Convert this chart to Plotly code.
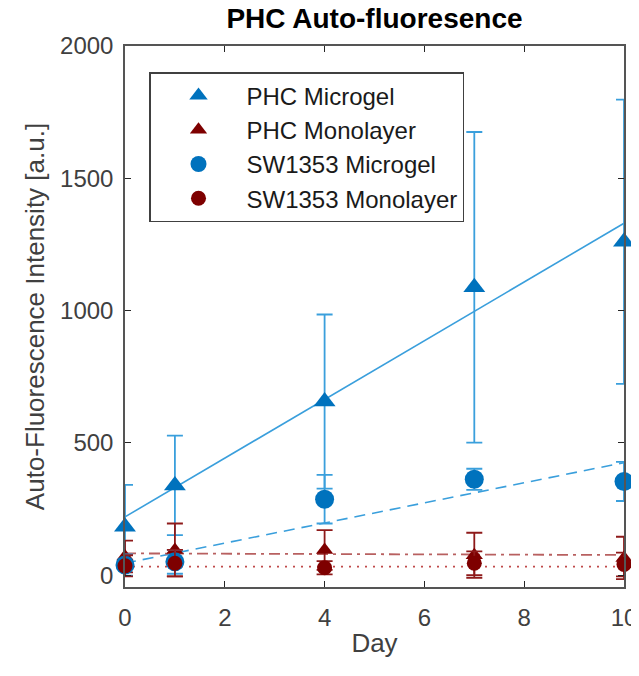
import plotly.graph_objects as go

days = [0, 1, 4, 7, 10]

phc_micro = [183, 339, 656, 1088, 1260]
phc_micro_err = [158, 188, 329, 587, 537]

phc_mono = [70, 95, 95, 75, 65]
phc_mono_err = [60, 100, 75, 85, 80]

sw_micro = [38, 50, 287, 362, 354]
sw_micro_err = [40, 45, 92, 40, 74]

sw_mono = [35, 45, 28, 45, 40]
sw_mono_err = [40, 50, 25, 45, 45]

fit_days = [0, 10]
fit_phc_micro = [220, 1330]
fit_phc_mono = [82, 76]
fit_sw_micro = [45, 425]
fit_sw_mono = [32, 32]

BLUE = "#0072BD"
BLUE_L = "#3A9FDC"
RED = "#7E0000"
RED_E = "#8E1A1A"

FONT = "Liberation Sans, Arial"

# figure sits inside the page body (8px margin)
OFF = 8
W, H = 639 - OFF, 676 - 2 * OFF
PL, PR, PT, PB = 125 - OFF, 624 - OFF, 46 - OFF, 587 - OFF

fig = go.Figure()

# fit lines
fig.add_trace(go.Scatter(x=fit_days, y=fit_phc_micro, mode="lines",
                         line=dict(color=BLUE_L, width=1.6), showlegend=False, hoverinfo="skip"))
fig.add_trace(go.Scatter(x=fit_days, y=fit_sw_micro, mode="lines",
                         line=dict(color=BLUE_L, width=1.6, dash="11px,7px"), showlegend=False, hoverinfo="skip"))
fig.add_trace(go.Scatter(x=fit_days, y=fit_phc_mono, mode="lines",
                         line=dict(color="#B86060", width=1.8, dash="11px,5px,3px,5px"), showlegend=False, hoverinfo="skip"))
fig.add_trace(go.Scatter(x=fit_days, y=fit_sw_mono, mode="lines",
                         line=dict(color="#C04A4A", width=1.6, dash="2px,6px"), showlegend=False, hoverinfo="skip"))


def add(name, y, err, color, ecolor, symbol, size):
    fig.add_trace(go.Scatter(
        x=days, y=y, mode="markers", name=name,
        marker=dict(symbol=symbol, size=size, color=color, line=dict(width=0)),
        error_y=dict(type="data", array=err, visible=True, color=ecolor, thickness=1.8, width=8),
        cliponaxis=False,
    ))


add("PHC Microgel", phc_micro, phc_micro_err, BLUE, BLUE_L, "triangle-up", 19)
add("PHC Monolayer", phc_mono, phc_mono_err, RED, RED_E, "triangle-up", 15)
add("SW1353 Microgel", sw_micro, sw_micro_err, BLUE, BLUE_L, "circle", 19)
add("SW1353 Monolayer", sw_mono, sw_mono_err, RED, RED_E, "circle", 15)

axis_common = dict(
    showline=True, linecolor="#555555", linewidth=1.5, mirror="ticks",
    ticks="inside", ticklen=6, tickcolor="#262626", tickwidth=1,
    showgrid=False, zeroline=False, ticklabeloverflow="allow", automargin=False,
    tickfont=dict(family=FONT, size=24, color="#404040"),
)

fig.update_layout(
    width=W, height=H,
    margin=dict(l=PL, r=W - PR, t=PT, b=H - PB),
    paper_bgcolor="white", plot_bgcolor="white",
    title=dict(text="<b>PHC Auto-fluoresence</b>", x=((PL + PR) / 2) / W, xanchor="center",
               y=1.0, yanchor="top", pad=dict(t=0),
               font=dict(family=FONT, size=28, color="#000000")),
    xaxis=dict(range=[0, 10], tickvals=[0, 2, 4, 6, 8, 10], ticklabelstandoff=8,
               title=dict(text="Day", font=dict(family=FONT, size=26, color="#404040"), standoff=4),
               **axis_common),
    yaxis=dict(range=[-45, 2000], tickvals=[0, 500, 1000, 1500, 2000], ticklabelstandoff=5,
               title=dict(text="Auto-Fluorescence Intensity [a.u.]", font=dict(family=FONT, size=26, color="#404040"), standoff=8),
               **axis_common),
    legend=dict(x=(149 - 125) / 499, y=(587 - 72) / 541, xanchor="left", yanchor="top",
                bgcolor="white", bordercolor="#404040", borderwidth=1.5,
                font=dict(family=FONT, size=24, color="#1a1a1a"),
                tracegroupgap=0, itemwidth=86),
    showlegend=True,
)

fig.write_html("out.html")
